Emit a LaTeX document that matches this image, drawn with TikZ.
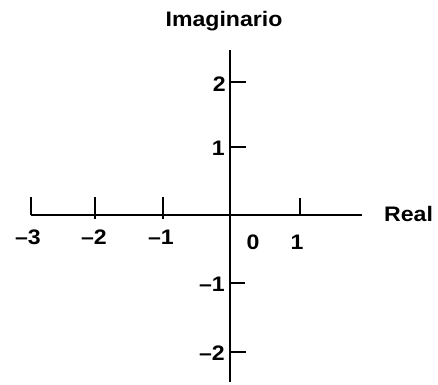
\documentclass[tikz,border=0pt]{standalone}
\usepackage{fontspec}
\setmainfont{Liberation Sans}
\newfontfamily\labfont[FakeStretch=1.1]{Liberation Sans Bold}
\begin{document}
\begin{tikzpicture}[x=1pt,y=-1pt,
  axisline/.style={line width=2.6pt},
  tickline/.style={line width=2.5pt},
  lab/.style={inner sep=0pt,font=\fontsize{21}{25}\labfont}]
\useasboundingbox (0,0) rectangle (438,384);
% axes
\coordinate (hl) at (31,215);
\coordinate (hr) at (362,215);
\coordinate (vt) at (230,50);
\coordinate (vb) at (230,382);
\draw[axisline] (hl) -- (hr);
\draw[axisline] (vt) -- (vb);
% horizontal ticks
\coordinate (tm3a) at (31,197); \coordinate (tm3b) at (31,215);
\coordinate (tm2a) at (95,197); \coordinate (tm2b) at (95,219);
\coordinate (tm1a) at (163,197); \coordinate (tm1b) at (163,219);
\coordinate (tp1a) at (300,198); \coordinate (tp1b) at (300,215);
\draw[tickline] (tm3a) -- (tm3b);
\draw[tickline] (tm2a) -- (tm2b);
\draw[tickline] (tm1a) -- (tm1b);
\draw[tickline] (tp1a) -- (tp1b);
% vertical ticks
\coordinate (v2a) at (230,82); \coordinate (v2b) at (246,82);
\coordinate (v1a) at (230,147); \coordinate (v1b) at (246,147);
\coordinate (vm1a) at (230,283); \coordinate (vm1b) at (245,283);
\coordinate (vm2a) at (230,352); \coordinate (vm2b) at (246,352);
\draw[tickline] (v2a) -- (v2b);
\draw[tickline] (v1a) -- (v1b);
\draw[tickline] (vm1a) -- (vm1b);
\draw[tickline] (vm2a) -- (vm2b);
% labels
\node[lab] (im) at (224,21) {Imaginario};
\node[lab,anchor=west] (re) at (384,214) {Real};
\node[lab,anchor=east] (y2) at (226,84) {2};
\node[lab,anchor=east] (y1) at (225,148) {1};
\node[lab,anchor=east] (ym1) at (225,284) {–1};
\node[lab,anchor=east] (ym2) at (225,353) {–2};
\node[lab] (x0) at (253,242) {0};
\node[lab] (x1) at (297,242) {1};
\node[lab] (xm3) at (28,237) {–3};
\node[lab] (xm2) at (94,237) {–2};
\node[lab] (xm1) at (161,237) {–1};
\end{tikzpicture}
\end{document}
